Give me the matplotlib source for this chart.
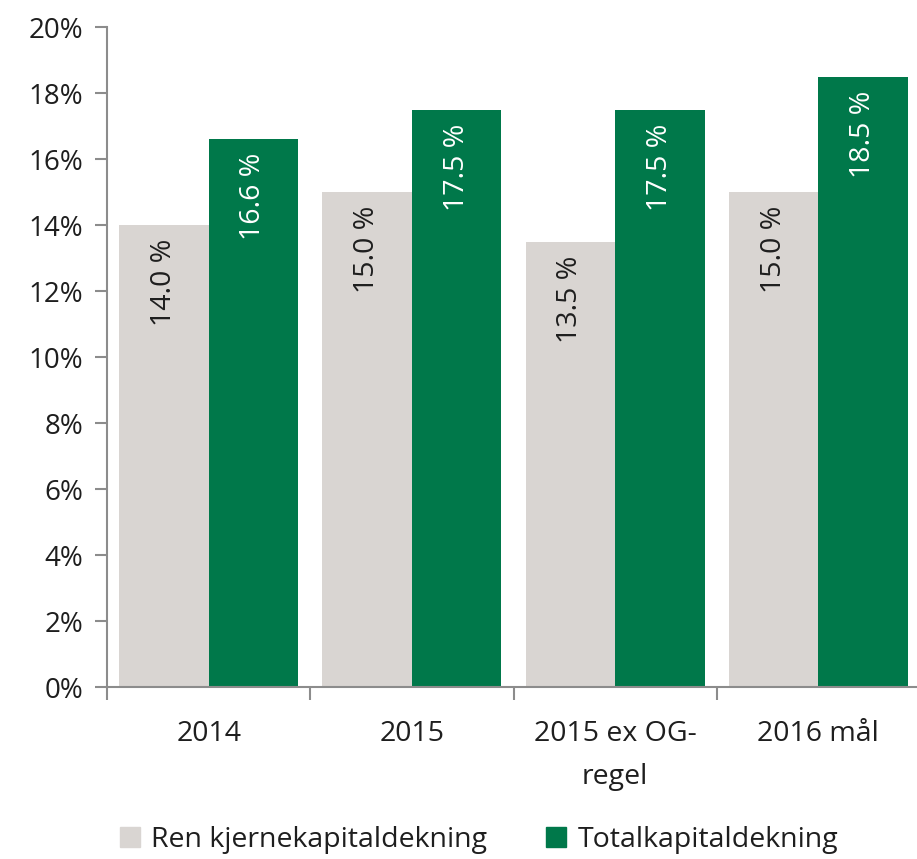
import matplotlib
matplotlib.use("Agg")
import matplotlib.pyplot as plt
import numpy as np
from matplotlib.patches import Patch

categories = ["2014", "2015", "2015 ex OG-\nregel", "2016 mål"]
ren = [14.0, 15.0, 13.5, 15.0]
total = [16.6, 17.5, 17.5, 18.5]
series_names = ["Ren kjernekapitaldekning", "Totalkapitaldekning"]
yticks = [0, 2, 4, 6, 8, 10, 12, 14, 16, 18, 20]

gray = "#D9D5D2"
green = "#00784A"
txt = "#1E1E1E"
spine = "#8C8C8C"

plt.rcParams['font.family'] = ['Open Sans', 'DejaVu Sans']

fig = plt.figure(figsize=(9.17, 8.59), dpi=100)
W, H = 917, 859
ax = fig.add_axes([107 / W, 1 - 687 / H, 813 / W, (687 - 27) / H])

x = np.arange(len(categories))
bw = 0.44
b1 = ax.bar(x - bw / 2, ren, bw, color=gray, label=series_names[0], zorder=2)
b2 = ax.bar(x + bw / 2, total, bw, color=green, label=series_names[1], zorder=2)

fs = 20
for bars, vals, col in ((b1, ren, txt), (b2, total, "white")):
    for r, v in zip(bars, vals):
        ax.annotate(f"{v:.1f} %", (r.get_x() + r.get_width() / 2, v),
                    xytext=(0, -10), textcoords="offset points",
                    rotation=90, ha="center", va="top", color=col,
                    fontsize=20.5)

ax.set_xlim(-0.5, len(categories) - 0.5)
ax.set_ylim(0, 20)
ax.set_yticks(yticks)
ax.set_yticklabels([f"{t}%" for t in yticks], fontsize=fs, color=txt)
ax.set_xticks(np.arange(len(categories) + 1) - 0.5, minor=False)
ax.set_xticklabels([])
ax.set_xticks(x, minor=True)
ax.set_xticklabels(categories, minor=True, fontsize=20.5, color=txt, linespacing=1.7)
ax.tick_params(axis='x', which='minor', length=0, pad=24)
ax.tick_params(axis='x', which='major', length=9, width=1.5, color=spine, direction='out')
ax.tick_params(axis='y', length=9, width=1.5, color=spine, pad=8)

for s in ("top", "right"):
    ax.spines[s].set_visible(False)
for s in ("left", "bottom"):
    ax.spines[s].set_color(spine)
    ax.spines[s].set_linewidth(1.5)

handles = [Patch(color=gray), Patch(color=green)]
fig.legend(handles, series_names, loc="center", bbox_to_anchor=(479 / W, 1 - 840 / H),
           ncol=2, frameon=False, fontsize=20.5, handlelength=0.7, handleheight=0.7,
           handletextpad=0.4, columnspacing=2.07, labelcolor=txt)

fig.savefig("out.png", dpi=100)
